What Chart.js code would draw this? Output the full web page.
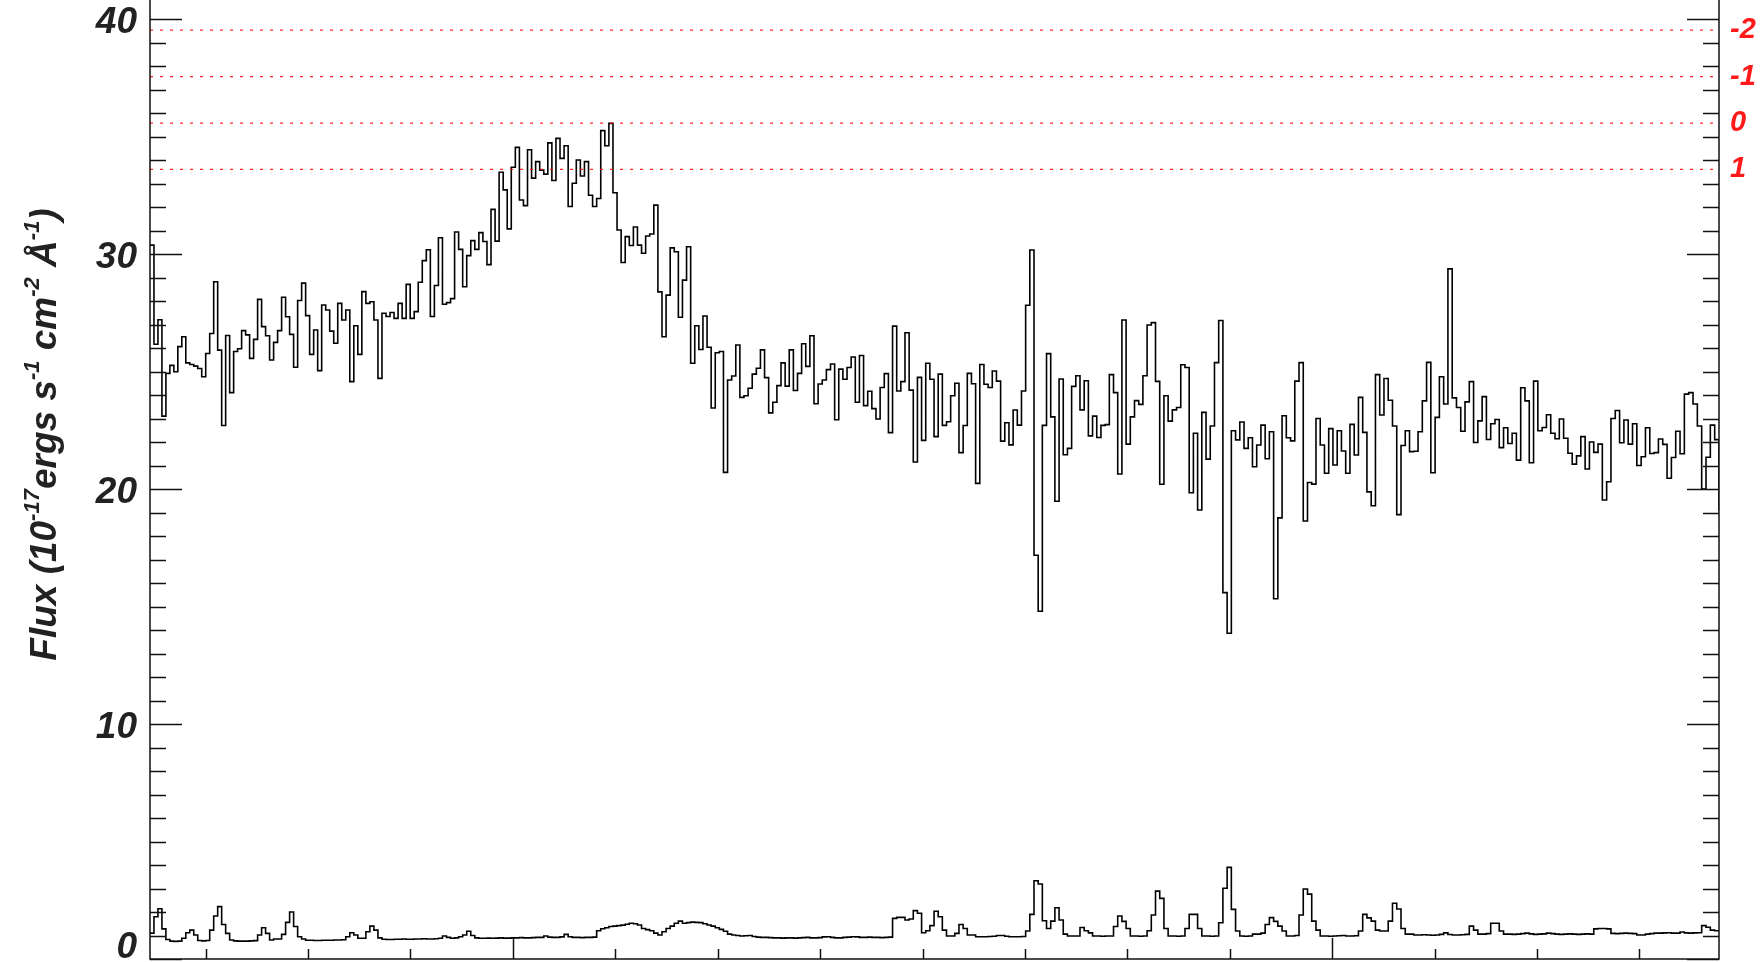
<!DOCTYPE html>
<html>
<head>
<meta charset="utf-8">
<script src="https://cdn.jsdelivr.net/npm/chart.js@4.4.1/dist/chart.umd.min.js"></script>
<style>
  html, body { margin: 0; padding: 0; background: #fff; overflow: hidden; }
  #wrap { position: relative; width: 1762px; height: 962px; overflow: hidden; }
  #box { position: absolute; left: 0; top: -40px; width: 1762px; height: 1042px; }
</style>
</head>
<body>
<div id="wrap"><div id="box"><canvas id="spec"></canvas></div></div>
<script>
// log-lambda binning, one value per pixel bin
const loglam0 = 3.22649;
const dloglam = 0.0001;
const nBins = 378;

const flux = [
  30.38, 26.16, 27.2, 23.1, 24.92, 25.26, 24.99, 26.06, 26.48, 25.37,
  25.3, 25.23, 25.13, 24.78, 25.77, 26.62, 28.82, 25.91, 22.7, 26.53,
  24.1, 25.85, 25.97, 26.74, 26.56, 25.56, 26.37, 28.07, 26.91, 26.52,
  25.49, 26.24, 26.74, 28.16, 27.33, 26.58, 25.18, 28.02, 28.76, 27.38,
  25.73, 26.77, 25.04, 27.83, 27.62, 26.72, 26.2, 27.9, 27.19, 27.62,
  24.57, 26.95, 25.73, 28.4, 27.9, 27.97, 27.19,
  24.71, 27.48, 27.34, 27.51, 27.26, 27.9, 27.26, 28.71, 27.26, 27.55,
  28.8, 29.72, 30.18, 27.34, 28.66, 30.69, 27.86, 27.93, 28.1, 30.94,
  30.2, 28.61, 29.93, 30.57, 30.2, 30.91, 30.53, 29.55, 31.9, 30.55,
  33.48, 32.73, 31.07, 33.69, 34.54, 32.3, 32.06, 34.44, 33.23, 33.93,
  33.57, 33.4, 34.73, 33.13, 34.92, 34.07, 34.61, 32.02, 33.01, 34.0,
  33.32, 33.93, 32.5, 32.02, 32.36, 35.25, 34.61, 35.56, 32.61, 31.02,
  29.64, 30.74, 30.36, 31.15, 30.38, 30.03, 30.77, 30.85, 32.08, 28.39,
  26.48, 28.25,
  30.26, 30.1, 27.31, 28.89, 30.31, 25.35, 26.95, 25.94, 27.36, 26.03,
  23.45, 25.8, 25.85, 20.71, 24.64, 24.81, 26.13, 23.9, 23.97, 24.29,
  24.89, 25.14, 25.92, 24.74, 23.24, 23.69, 24.4, 25.37, 24.38, 25.92,
  24.19, 24.92, 26.18, 25.22, 26.52, 23.63, 24.47, 24.64, 25.08, 25.32,
  22.95, 25.1, 24.67, 25.17, 25.62, 23.69, 25.68, 23.55, 24.16, 23.42,
  22.98, 24.32, 24.91, 22.4, 26.93, 24.17, 24.57, 26.65, 24.21, 21.15,
  24.75, 22.07,
  25.35, 24.67, 22.23, 24.89, 22.71, 22.86, 23.97, 24.5, 21.55, 22.7,
  24.92, 24.48, 20.24, 25.3, 24.46, 24.32, 25.02, 24.59, 22.04, 22.82,
  21.88, 23.36, 22.72, 24.17, 27.82, 30.17, 17.18, 14.8, 22.71, 25.76,
  23.07, 19.48, 24.68, 21.46, 21.73, 24.37, 24.82, 23.37, 24.61, 22.26,
  23.1, 22.19, 22.71, 22.74, 24.87, 24.1, 20.64, 27.19, 21.91, 23.07,
  23.76, 23.6, 24.82, 26.98, 27.08, 24.58, 20.2, 23.97, 22.89, 23.37,
  23.47, 25.29, 25.17, 19.84,
  22.37, 19.11, 23.26, 21.27, 22.68, 25.38, 27.17, 15.59, 13.86, 22.48,
  22.09, 22.85, 21.73, 22.18, 20.95, 21.87, 22.72, 21.29, 22.44, 15.33,
  18.77, 23.12, 22.18, 22.05, 24.59, 25.38, 18.64, 20.28, 20.21, 23.0,
  21.87, 20.67, 22.57, 21.02, 22.48, 21.62, 20.67, 22.75, 21.45, 23.9,
  22.41, 19.88, 19.29, 24.87, 23.15, 24.7, 23.78, 22.68, 18.91, 21.85,
  22.48, 21.59, 21.61, 22.44, 23.75, 25.39, 20.69, 23.05, 24.78, 23.62,
  29.37,
  23.88, 23.47, 22.46, 23.71, 24.57, 21.98, 22.9, 23.93, 22.11, 22.78,
  22.96, 21.76, 22.61, 21.94, 22.37, 21.23, 24.31, 23.75, 21.12, 24.59,
  22.48, 22.62, 23.16, 22.37, 22.14, 22.98, 22.16, 21.52, 21.06, 21.41,
  22.23, 20.85, 22.0, 21.56, 21.91, 19.53, 20.31, 23.0, 23.34, 21.97,
  22.94, 21.91, 22.78, 21.0, 21.37, 22.61, 21.51, 21.55, 22.13, 21.9,
  20.46, 21.34, 22.46, 21.5, 24.04, 24.1, 23.62, 22.68, 20.0, 21.35,
  22.72, 22.1, 19.1
];

const fluxErr = [
  1.1, 1.8, 2.14, 1.28, 0.83, 0.76, 0.75, 0.76, 0.88, 1.12,
  1.23, 1.02, 0.79, 0.77, 0.79, 1.23, 1.83, 2.23, 1.47, 1.09,
  0.81, 0.77, 0.76, 0.76, 0.76, 0.77, 0.78, 1.02, 1.33, 1.09,
  0.81, 0.85, 0.85, 1.05, 1.56, 2.0, 1.38, 0.95, 0.85, 0.8,
  0.8, 0.79, 0.79, 0.8, 0.8, 0.8, 0.81, 0.81, 0.82, 0.95,
  1.12, 1.02, 0.88, 0.88, 1.16, 1.4, 1.23, 0.9, 0.84, 0.83,
  0.83, 0.84, 0.84, 0.85, 0.84, 0.84, 0.85, 0.85, 0.86, 0.85,
  0.85, 0.86, 0.88, 0.98, 0.92, 0.88, 0.9, 0.95, 1.02, 1.18,
  1.0, 0.9, 0.88, 0.88, 0.89, 0.88, 0.89, 0.9, 0.89, 0.89,
  0.9, 0.9, 0.91, 0.9, 0.9, 0.91, 0.92, 0.92, 0.98, 0.93,
  0.92, 0.92, 0.94, 1.05, 0.95, 0.92, 0.92, 0.91, 0.92, 0.92,
  0.93, 1.2, 1.29, 1.33, 1.38, 1.4, 1.42, 1.44, 1.48, 1.52,
  1.5, 1.45, 1.3, 1.25, 1.2, 1.1, 1.02, 1.16, 1.3, 1.4,
  1.52, 1.61, 1.52, 1.55, 1.57, 1.56, 1.55, 1.5, 1.45, 1.4,
  1.33, 1.26, 1.18, 1.06, 1.02, 1.0, 0.98, 0.99, 1.0, 0.96,
  0.93, 0.92, 0.92, 0.91, 0.9, 0.9, 0.89, 0.9, 0.9, 0.89,
  0.9, 0.91, 0.92, 0.9, 0.9, 0.91, 0.94, 0.95, 0.92, 0.9,
  0.9, 0.92, 0.93, 0.95, 0.94, 0.92, 0.92, 0.93, 0.92, 0.92,
  0.91, 0.92, 0.93, 1.73, 1.77, 1.77, 1.66, 1.7, 2.06, 1.95,
  1.12, 1.2, 1.42, 2.03, 1.8, 1.23, 0.98, 0.98, 1.09, 1.47,
  1.3, 1.02, 1.02, 0.95, 0.95, 0.95, 0.96, 0.97, 1.0, 1.0,
  0.97, 0.95, 0.95, 0.95, 0.96, 1.19, 1.9, 3.33, 3.19, 1.63,
  1.3, 1.61, 2.18, 1.66, 1.06, 0.98, 0.98, 0.98, 1.34, 1.2,
  1.11, 0.98, 0.98, 0.97, 0.98, 0.98, 1.38, 1.83, 1.6, 1.3,
  0.98, 0.98, 0.97, 0.98, 1.2, 1.87, 2.89, 2.58, 1.3, 0.98,
  0.98, 0.97, 0.98, 1.3, 1.9, 1.9, 1.3, 0.98, 0.98, 0.97,
  0.98, 1.54, 3.01, 3.9, 2.11, 1.19, 0.98, 0.97, 0.98, 1.06,
  1.06, 1.1, 1.47, 1.76, 1.6, 1.4, 1.19, 0.98, 0.98, 1.0,
  1.87, 2.98, 2.76, 1.61, 1.23, 0.98, 0.98, 0.97, 0.98, 0.99,
  1.0, 0.98, 0.98, 0.99, 1.19, 1.9, 1.75, 1.61, 1.23, 1.19,
  1.19, 1.61, 2.37, 2.13, 1.3, 1.06, 1.06, 1.02, 1.02, 1.03,
  1.02, 1.01, 1.02, 1.05, 1.11, 1.04, 1.02, 1.02, 1.03, 1.05,
  1.4, 1.23, 1.06, 1.06, 1.08, 1.52, 1.52, 1.19, 1.06, 1.06,
  1.05, 1.06, 1.08, 1.1, 1.07, 1.05, 1.06, 1.07, 1.1, 1.08,
  1.06, 1.05, 1.06, 1.07, 1.06, 1.05, 1.06, 1.07, 1.06, 1.28,
  1.3, 1.3, 1.28, 1.09, 1.08, 1.09, 1.1, 1.09, 1.08, 1.02,
  1.02, 1.06, 1.08, 1.1, 1.1, 1.11, 1.12, 1.1, 1.1, 1.15,
  1.11, 1.1, 1.11, 1.12, 1.42, 1.35, 1.23, 1.2, 1.2
];

const yLabelValues = [0, 10, 20, 30, 40];
const magLevels = [39.53, 37.55, 35.57, 33.6];
const magLabels = ['-2', '-1', '0', '1'];
const xTicks = [1690, 1700, 1710, 1720, 1730, 1740, 1750, 1760, 1770, 1780, 1790, 1800, 1810, 1820, 1830];
const xLongTicks = [1720, 1800];

const edge = k => Math.pow(10, loglam0 + k * dloglam);
const stepData = vals => vals.map((v, k) => ({x: edge(k), y: v}))
  .concat([{x: edge(vals.length), y: vals[vals.length - 1]}]);

const FAMILY = '"Liberation Sans", Arial, Helvetica, sans-serif';

const axisFrame = {
  id: 'axisFrame',
  afterDatasetsDraw(chart) {
    const {ctx, chartArea: a, scales: {x, y}} = chart;
    ctx.save();
    ctx.strokeStyle = '#111';
    ctx.lineWidth = 1.5;
    ctx.beginPath();
    ctx.moveTo(a.left, a.top);
    ctx.lineTo(a.left, a.bottom);
    ctx.lineTo(a.right, a.bottom);
    ctx.lineTo(a.right, a.top);
    y.ticks.forEach(t => {
      const py = Math.round(y.getPixelForValue(t.value)) + 0.5;
      const len = t.value % 10 === 0 ? 32 : 16;
      ctx.moveTo(a.left, py); ctx.lineTo(a.left + len, py);
      ctx.moveTo(a.right, py); ctx.lineTo(a.right - len, py);
    });
    xTicks.forEach(v => {
      const px = Math.round(x.getPixelForValue(v)) + 0.5;
      const len = xLongTicks.includes(v) ? 21 : 10;
      ctx.moveTo(px, a.bottom); ctx.lineTo(px, a.bottom - len);
    });
    ctx.stroke();
    ctx.restore();
  }
};

// rotated y title with real superscripts
const yTitle = {
  id: 'yTitle',
  afterDraw(chart) {
    const {ctx, chartArea: a} = chart;
    const F = 37;
    const parts = [['Flux (10', 0], ['-17', 1], ['ergs s', 0], ['-1', 1], [' cm', 0], ['-2', 1], [' \u00C5', 0], ['-1', 1], [')', 0]];
    const big = 'italic bold ' + F + 'px ' + FAMILY;
    const small = 'italic bold ' + Math.round(F * 0.6) + 'px ' + FAMILY;
    ctx.save();
    let w = 0;
    parts.forEach(([t, s]) => { ctx.font = s ? small : big; w += ctx.measureText(t).width; });
    ctx.translate(56, (a.top + a.bottom) / 2 - 45);
    ctx.rotate(-Math.PI / 2);
    ctx.fillStyle = '#222';
    ctx.textBaseline = 'alphabetic';
    let cx = -w / 2;
    parts.forEach(([t, s]) => {
      ctx.font = s ? small : big;
      ctx.fillText(t, cx, s ? -F * 0.45 : 0);
      cx += ctx.measureText(t).width;
    });
    ctx.restore();
  }
};

const lineDs = (label, vals) => ({
  label, data: stepData(vals), yAxisID: 'y',
  stepped: true, borderColor: '#000', borderWidth: 1.6,
  pointRadius: 0, fill: false
});

const magDs = magLevels.map((v, i) => ({
  label: 'mag ' + magLabels[i],
  data: [{x: edge(0), y: v}, {x: edge(nBins), y: v}],
  yAxisID: 'y', borderColor: 'rgba(255,0,0,0.85)', borderWidth: 1.3,
  borderDash: [3, 7], pointRadius: 0, fill: false
}));

new Chart(document.getElementById('spec'), {
  type: 'line',
  data: { datasets: [...magDs, lineDs('flux', flux), lineDs('error', fluxErr)] },
  options: {
    responsive: true,
    maintainAspectRatio: false,
    animation: false,
    layout: { padding: { top: 40, bottom: 43, left: 0, right: 0 } },
    plugins: { legend: { display: false }, tooltip: { enabled: false } },
    scales: {
      x: { type: 'linear', min: edge(0), max: edge(nBins), display: false },
      y: {
        min: 0, max: 40.81,
        afterFit: s => { s.width = 150; },
        grid: { display: false, drawTicks: false },
        border: { display: false },
        ticks: {
          stepSize: 1, includeBounds: false, autoSkip: false,
          padding: 13, labelOffset: 4, color: '#222',
          font: c => ({ family: FAMILY, size: 37, weight: 'bold', style: 'italic',
                        lineHeight: (c.tick && c.tick.value === 0) ? '30px' : 1.2 }),
          callback: v => v === 0 ? ['0', ''] : (yLabelValues.includes(v) ? String(v) : '')
        }
      },
      y2: {
        position: 'right', min: 0, max: 40.81,
        afterFit: s => { s.width = 43; },
        afterBuildTicks: s => { s.ticks = magLevels.map(v => ({ value: v })); },
        grid: { display: false, drawTicks: false },
        border: { display: false },
        ticks: {
          autoSkip: false, padding: 11, color: 'rgb(255,25,25)',
          font: { family: FAMILY, size: 29, weight: 'bold', style: 'italic' },
          callback: v => magLabels[magLevels.indexOf(v)]
        }
      }
    }
  },
  plugins: [axisFrame, yTitle]
});
</script>
</body>
</html>
